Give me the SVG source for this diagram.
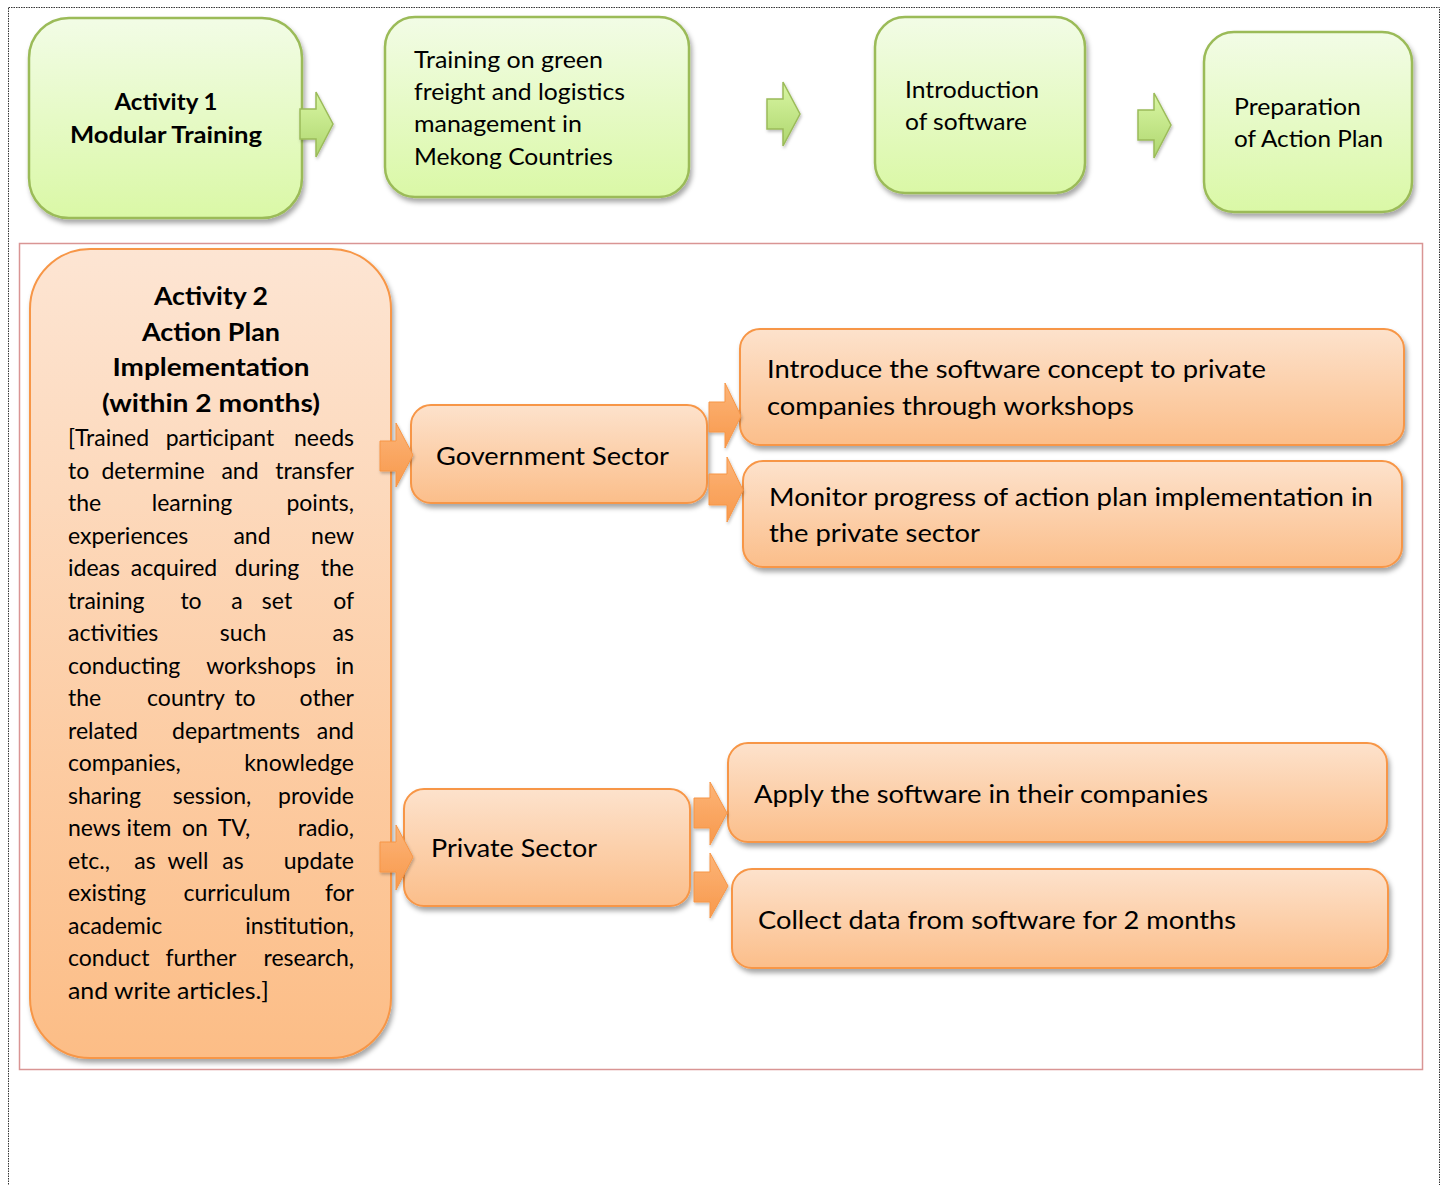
<svg xmlns="http://www.w3.org/2000/svg" width="1444" height="1185" viewBox="0 0 1444 1185">
<defs>
<linearGradient id="gG" x1="0" y1="0" x2="0" y2="1"><stop offset="0" stop-color="#f2fce6"/><stop offset="1" stop-color="#daf8a6"/></linearGradient>
<linearGradient id="gO" x1="0" y1="0" x2="0" y2="1"><stop offset="0" stop-color="#fde5d3"/><stop offset="1" stop-color="#fcbd86"/></linearGradient>
<linearGradient id="gOs" x1="0" y1="0" x2="0" y2="1"><stop offset="0" stop-color="#fde2cc"/><stop offset="1" stop-color="#fbbe8a"/></linearGradient>
<linearGradient id="gGA" x1="0" y1="0" x2="0" y2="1"><stop offset="0" stop-color="#d9f6a4"/><stop offset="1" stop-color="#aed66e"/></linearGradient>
<linearGradient id="gOA" x1="0" y1="0" x2="0" y2="1"><stop offset="0" stop-color="#fcb478"/><stop offset="1" stop-color="#f8994c"/></linearGradient>
<filter id="sh" x="-10%" y="-10%" width="120%" height="130%"><feDropShadow dx="2" dy="4" stdDeviation="2.5" flood-color="#000" flood-opacity="0.35"/></filter>
<filter id="sha" x="-20%" y="-20%" width="150%" height="150%"><feDropShadow dx="1" dy="2" stdDeviation="1.5" flood-color="#000" flood-opacity="0.25"/></filter>
</defs>
<style>
.gb{fill:url(#gG);stroke:#9bbb59;stroke-width:2.5;filter:url(#sh)}
.ob{fill:url(#gOs);stroke:#f79646;stroke-width:2;filter:url(#sh)}
.obig{fill:url(#gO);stroke:#f79646;stroke-width:2;filter:url(#sh)}
.ga{fill:url(#gGA);stroke:#9bbb59;stroke-width:1.5;filter:url(#sha)}
.oa{fill:url(#gOA);stroke:#f79646;stroke-width:1;filter:url(#sha)}
text{font-family:Lato,"Open Sans",sans-serif;fill:#000}
.b{font-weight:bold}
.t24{font-size:23px}
.t26{font-size:25px}
.tb{font-size:23px}
.e{text-anchor:end}
.m{text-anchor:middle}
</style>
<rect width="1444" height="1185" fill="#fff"/>
<rect x="8.5" y="7.5" width="1431" height="1200" fill="none" stroke="#333" stroke-width="1" stroke-dasharray="1.5 1"/>
<rect x="19.5" y="243.5" width="1403" height="826" fill="none" stroke="#d99594" stroke-width="1.5"/>

<g id="activity1"><rect class="gb" x="29" y="18" width="273" height="200" rx="40"/>
<text class="t24 b m" x="166" y="110" textLength="103" lengthAdjust="spacingAndGlyphs">Activity 1</text>
<text class="t24 b m" x="166" y="143" textLength="192" lengthAdjust="spacingAndGlyphs">Modular Training</text></g>

<g id="training"><rect class="gb" x="385" y="17" width="304" height="180" rx="30"/>
<text class="t24" x="414" y="68" textLength="189" lengthAdjust="spacingAndGlyphs">Training on green</text>
<text class="t24" x="414" y="100" textLength="211" lengthAdjust="spacingAndGlyphs">freight and logistics</text>
<text class="t24" x="414" y="132" textLength="168" lengthAdjust="spacingAndGlyphs">management in</text>
<text class="t24" x="414" y="165" textLength="199" lengthAdjust="spacingAndGlyphs">Mekong Countries</text></g>

<g id="software"><rect class="gb" x="875" y="17" width="210" height="176" rx="30"/>
<text class="t24" x="905" y="98" textLength="134" lengthAdjust="spacingAndGlyphs">Introduction</text>
<text class="t24" x="905" y="130" textLength="122" lengthAdjust="spacingAndGlyphs">of software</text></g>

<g id="actionplan"><rect class="gb" x="1204" y="32" width="208" height="180" rx="30"/>
<text class="t24" x="1234" y="115" textLength="127" lengthAdjust="spacingAndGlyphs">Preparation</text>
<text class="t24" x="1234" y="147" textLength="149" lengthAdjust="spacingAndGlyphs">of Action Plan</text></g>

<g id="activity2"><rect class="obig" x="30" y="249" width="361" height="809" rx="60"/>
<text class="t26 b m" x="211" y="305" textLength="114" lengthAdjust="spacingAndGlyphs">Activity 2</text>
<text class="t26 b m" x="211" y="341" textLength="138" lengthAdjust="spacingAndGlyphs">Action Plan</text>
<text class="t26 b m" x="211" y="376" textLength="197" lengthAdjust="spacingAndGlyphs">Implementation</text>
<text class="t26 b m" x="211" y="412" textLength="218" lengthAdjust="spacingAndGlyphs">(within 2 months)</text>
<g class="tb">
<text x="68" y="446">[Trained</text><text class="m" x="220" y="446">participant</text><text class="e" x="354" y="446">needs</text>
<text x="68" y="478.5">to</text><text class="m" x="153" y="478.5">determine</text><text class="m" x="240" y="478.5">and</text><text class="e" x="354" y="478.5">transfer</text>
<text x="68" y="511">the</text><text class="m" x="192" y="511">learning</text><text class="e" x="354" y="511">points,</text>
<text x="68" y="543.5">experiences</text><text class="m" x="252" y="543.5">and</text><text class="e" x="354" y="543.5">new</text>
<text x="68" y="576">ideas</text><text class="m" x="174" y="576">acquired</text><text class="m" x="267" y="576">during</text><text class="e" x="354" y="576">the</text>
<text x="68" y="608.5">training</text><text class="m" x="191" y="608.5">to</text><text class="m" x="237" y="608.5">a</text><text class="m" x="277" y="608.5">set</text><text class="e" x="354" y="608.5">of</text>
<text x="68" y="641">activities</text><text class="m" x="243" y="641">such</text><text class="e" x="354" y="641">as</text>
<text x="68" y="673.5">conducting</text><text class="m" x="261" y="673.5">workshops</text><text class="e" x="354" y="673.5">in</text>
<text x="68" y="706">the</text><text class="m" x="186" y="706">country</text><text class="m" x="245" y="706">to</text><text class="e" x="354" y="706">other</text>
<text x="68" y="738.5">related</text><text class="m" x="236" y="738.5">departments</text><text class="e" x="354" y="738.5">and</text>
<text x="68" y="771">companies,</text><text class="e" x="354" y="771">knowledge</text>
<text x="68" y="803.5">sharing</text><text class="m" x="212" y="803.5">session,</text><text class="e" x="354" y="803.5">provide</text>
<text x="68" y="836">news</text><text class="m" x="149" y="836">item</text><text class="m" x="195" y="836">on</text><text class="m" x="234" y="836">TV,</text><text class="e" x="354" y="836">radio,</text>
<text x="68" y="868.5">etc.,</text><text class="m" x="145" y="868.5">as</text><text class="m" x="188" y="868.5">well</text><text class="m" x="233" y="868.5">as</text><text class="e" x="354" y="868.5">update</text>
<text x="68" y="901">existing</text><text class="m" x="237" y="901">curriculum</text><text class="e" x="354" y="901">for</text>
<text x="68" y="933.5">academic</text><text class="e" x="354" y="933.5">institution,</text>
<text x="68" y="966">conduct</text><text class="m" x="201" y="966">further</text><text class="e" x="354" y="966">research,</text>
<text x="68" y="998.5" textLength="201" lengthAdjust="spacingAndGlyphs">and write articles.]</text>
</g></g>

<g id="gov"><rect class="ob" x="411" y="405" width="296" height="98" rx="20"/>
<text class="t26" x="436" y="465" textLength="233" lengthAdjust="spacingAndGlyphs">Government Sector</text></g>

<g id="introduce"><rect class="ob" x="740" y="329" width="664" height="116" rx="20"/>
<text class="t26" x="767" y="378" textLength="499" lengthAdjust="spacingAndGlyphs">Introduce the software concept to private</text>
<text class="t26" x="767" y="415" textLength="367" lengthAdjust="spacingAndGlyphs">companies through workshops</text></g>

<g id="monitor"><rect class="ob" x="743" y="461" width="659" height="106" rx="20"/>
<text class="t26" x="769" y="506" textLength="604" lengthAdjust="spacingAndGlyphs">Monitor progress of action plan implementation in</text>
<text class="t26" x="769" y="542" textLength="211" lengthAdjust="spacingAndGlyphs">the private sector</text></g>

<g id="private"><rect class="ob" x="404" y="789" width="286" height="117" rx="20"/>
<text class="t26" x="431" y="857" textLength="166" lengthAdjust="spacingAndGlyphs">Private Sector</text></g>

<g id="apply"><rect class="ob" x="728" y="743" width="659" height="99" rx="20"/>
<text class="t26" x="754" y="803" textLength="454" lengthAdjust="spacingAndGlyphs">Apply the software in their companies</text></g>

<g id="collect"><rect class="ob" x="732" y="869" width="656" height="99" rx="20"/>
<text class="t26" x="758" y="929" textLength="478" lengthAdjust="spacingAndGlyphs">Collect data from software for 2 months</text></g>

<g id="connectors">
<polygon class="ga" points="300,109 316,109 316,92 333,124 316,157 316,139 300,139"/>
<polygon class="ga" points="767,99 783,99 783,82 800,114 783,146 783,129 767,129"/>
<polygon class="ga" points="1138,110 1154,110 1154,93 1171,125 1154,158 1154,140 1138,140"/>
<polygon class="oa" points="380,441 396,441 396,423 413,455 396,487 396,471 380,471"/>
<polygon class="oa" points="380,842 396,842 396,825 413,857 396,890 396,872 380,872"/>
<polygon class="oa" points="709,402 725,402 725,383 741,416 725,448 725,432 709,432"/>
<polygon class="oa" points="709,474 727,474 727,457 743,490 727,522 727,505 709,505"/>
<polygon class="oa" points="694,798 710,798 710,782 727,813 710,845 710,828 694,828"/>
<polygon class="oa" points="694,872 710,872 710,853 728,886 710,918 710,902 694,902"/>
</g>
</svg>
